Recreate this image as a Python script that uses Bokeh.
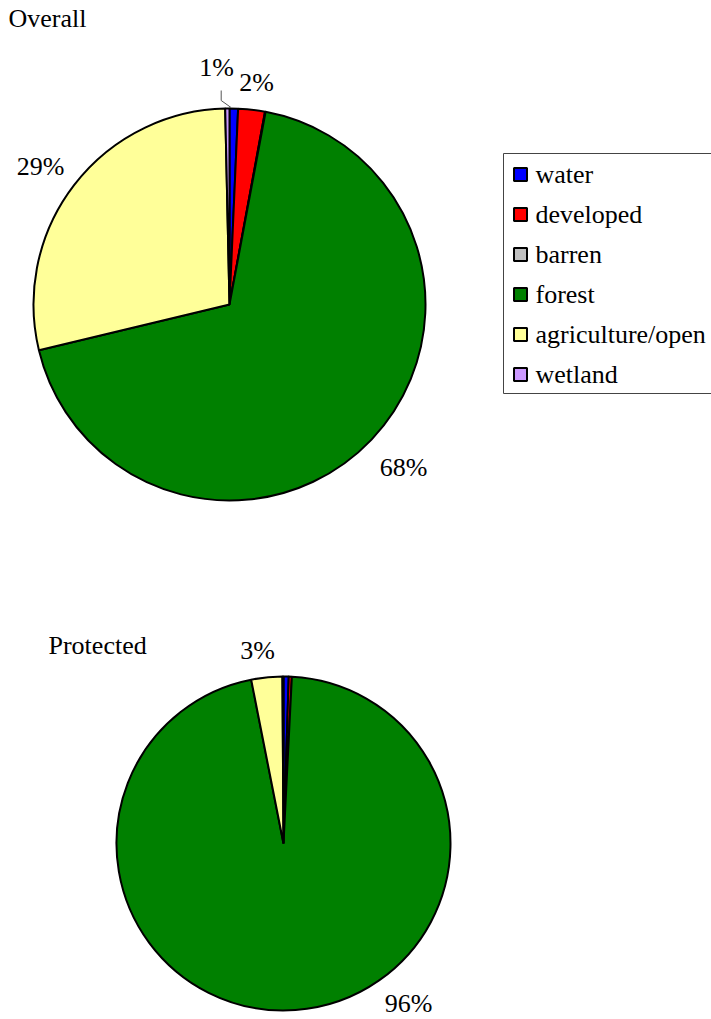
import numpy as np
from bokeh.plotting import figure
from bokeh.models import Range1d
from bokeh.core.properties import value
from bokeh.embed import file_html
from bokeh.resources import INLINE

categories = ["water", "developed", "barren", "forest", "agriculture/open", "wetland"]
colors = ["#0000FF", "#FF0000", "#C0C0C0", "#008000", "#FFFF99", "#CC99FF"]
overall = [0.7, 2.2, 0.05, 68.3, 28.4, 0.35]
protected = [0.5, 0.3, 0.0, 96.1, 3.0, 0.1]
overall_labels = ["1%", "2%", "", "68%", "29%", ""]
protected_labels = ["", "", "", "96%", "3%", ""]

FS = "26px"


def F():
    return value("Liberation Serif")


W, H = 711, 1019
p = figure(width=W, height=H, output_backend="svg", toolbar_location=None,
           x_range=Range1d(0, W), y_range=Range1d(H, 0), min_border=0)
p.axis.visible = False
p.grid.visible = False
p.outline_line_color = None


def add_text(x, y, txt, align="left"):
    p.text(x=[x], y=[y], text=[txt], text_font=F(), text_font_size=FS,
           text_align=align, text_baseline="middle", text_color="black")


def draw_pie(vals, labels, cx, cy, r, label_pos):
    v = np.array(vals, dtype=float)
    frac = v / v.sum()
    cum = np.concatenate([[0], np.cumsum(frac)])
    for i, (f, c) in enumerate(zip(frac, colors)):
        if f <= 0:
            continue
        s = np.pi / 2 - 2 * np.pi * cum[i + 1]
        e = np.pi / 2 - 2 * np.pi * cum[i]
        p.wedge(x=cx, y=cy, radius=r, start_angle=s, end_angle=e,
                fill_color=c, line_color="black", line_width=2)
    for lab, pos in zip(labels, label_pos):
        if lab and pos is not None:
            add_text(pos[0], pos[1], lab, "center")


draw_pie(overall, overall_labels, 229, 304, 196,
         [(216, 67), (256, 82), None, (403, 467), (40, 166), None])
# leader line for 1%
p.line(x=[220.7, 220.7, 230.5], y=[90, 100, 107], line_color="#555555", line_width=1)

draw_pie(protected, protected_labels, 283, 843, 167,
         [None, None, None, (408, 1003), (257, 650), None])

# titles
add_text(8, 18, "Overall")
add_text(48, 645, "Protected")

# legend
p.quad(left=503, right=715, top=153, bottom=393, fill_color="white",
       line_color="#444444", line_width=1)
ly = [174 + 40 * i for i in range(len(categories))]
p.rect(x=[520] * len(categories), y=ly, width=13, height=13,
       fill_color=colors, line_color="black", line_width=2)
for cat, yy in zip(categories, ly):
    add_text(535, yy, cat)

open("out.html", "w").write(file_html(p, INLINE))
